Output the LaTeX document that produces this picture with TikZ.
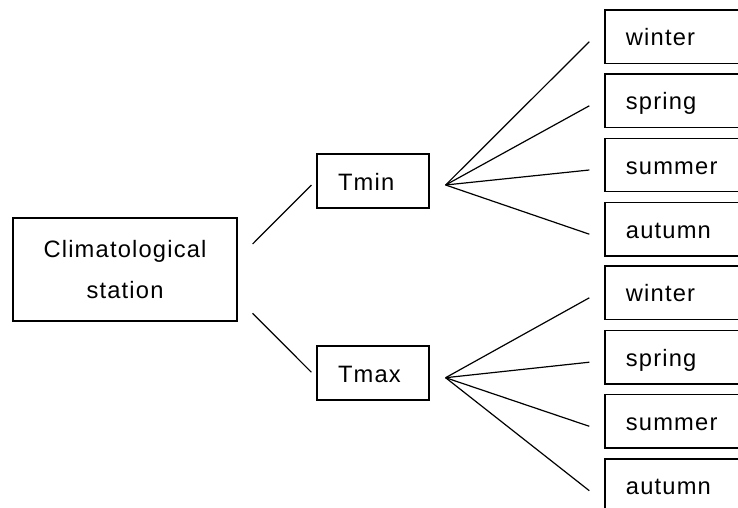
\documentclass[tikz,border=0pt]{standalone}
\usepackage{fontspec}
\setmainfont[LetterSpace=5]{Liberation Sans}
\usetikzlibrary{calc}
\begin{document}
\begin{tikzpicture}[x=1pt,y=-1pt,
  box/.style={draw, line width=1.2pt, rectangle, inner ysep=0pt,
    font=\fontsize{23.7}{41}\selectfont, text height=20pt, text depth=2pt},
  leafbox/.style={box, anchor=west, minimum height=53.5pt, inner xsep=21pt,
    text width=98pt, align=left},
  midbox/.style={box, minimum height=54pt, inner xsep=21pt, text width=70pt, align=left},
  link/.style={line width=1.2pt}]
\clip (0,0) rectangle (738,508);
\useasboundingbox (0,0) rectangle (738,508);
\fill[white] (0,0) rectangle (738,508);

\node[draw, line width=1.2pt, minimum width=224pt, minimum height=103pt,
  align=center, font=\fontsize{23.7}{41}\selectfont] (clim) at (125,269.5)
  {Climatological\\station};
\node[midbox] (tmin) at (373,181) {Tmin};
\node[midbox] (tmax) at (373,373) {Tmax};

\node[leafbox] (w1) at (604.3,36.7) {winter};
\node[leafbox] (sp1) at (604.3,100.8) {spring};
\node[leafbox] (su1) at (604.3,165) {summer};
\node[leafbox] (a1) at (604.3,229.2) {autumn};
\node[leafbox] (w2) at (604.3,292.8) {winter};
\node[leafbox] (sp2) at (604.3,357.2) {spring};
\node[leafbox] (su2) at (604.3,421.3) {summer};
\node[leafbox] (a2) at (604.3,485.7) {autumn};

\coordinate (c1) at ($(clim.east)+(15,-25.5)$);
\coordinate (c2) at ($(clim.east)+(15,43.8)$);
\coordinate (t1) at ($(tmin.west)+(-5,4)$);
\coordinate (t2) at ($(tmax.west)+(-5,-0.7)$);
\draw[link] (c1) -- (t1);
\draw[link] (c2) -- (t2);

\coordinate (f1) at ($(tmin.east)+(16,4)$);
\coordinate (f2) at ($(tmax.east)+(16,4.7)$);
\foreach \n in {w1,sp1,su1,a1}{
  \draw[link] (f1) -- ($(\n.west)+(-15,5)$);
}
\foreach \n in {w2,sp2,su2,a2}{
  \draw[link] (f2) -- ($(\n.west)+(-15,5)$);
}
\end{tikzpicture}
\end{document}
